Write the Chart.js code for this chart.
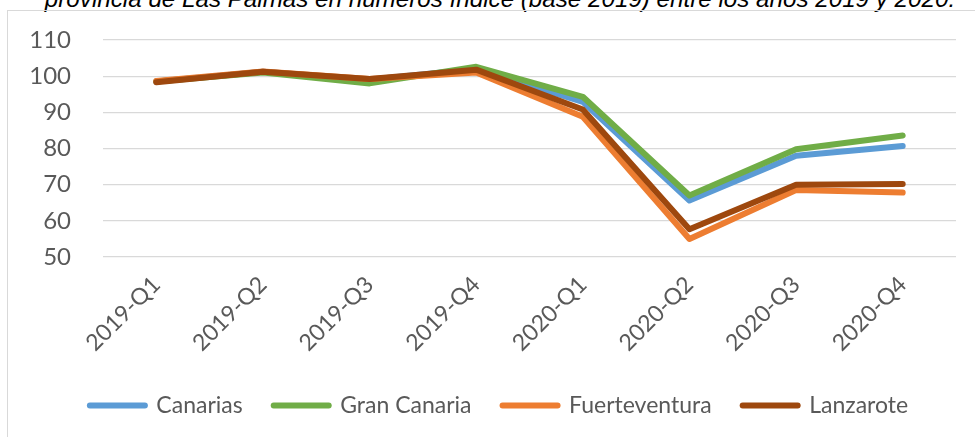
<!DOCTYPE html>
<html>
<head>
<meta charset="utf-8">
<script src="https://cdn.jsdelivr.net/npm/chart.js@4/dist/chart.umd.min.js"></script>
<style>
  html, body { margin: 0; padding: 0; background: #fff; overflow: hidden; }
  body { width: 975px; height: 437px; position: relative; }
  #titre {
    position: absolute; left: 0; width: 1000px; top: -13px;
    text-align: center; white-space: nowrap;
    font: italic 24.2px "Liberation Sans", Arial, sans-serif; line-height: 24px; color: #000;
  }
  #cadre {
    position: absolute; left: 7px; top: 10px; width: 1000px; height: 440px;
    border: 1px solid #d9d9d9; box-sizing: border-box;
  }
  #graf { position: absolute; left: 0; top: 0; }
</style>
</head>
<body>
<div id="titre">provincia de Las Palmas en números índice (base 2019) entre los años 2019 y 2020.</div>
<div id="cadre"></div>
<canvas id="graf" width="975" height="437"></canvas>
<script>
const trimestres = ['2019-Q1', '2019-Q2', '2019-Q3', '2019-Q4', '2020-Q1', '2020-Q2', '2020-Q3', '2020-Q4'];

// valeurs (indice base 2019)
const canarias      = [98.5, 101.2, 99.0, 102.0, 92.9, 65.6, 78.0, 80.7];
const granCanaria   = [98.5, 101.0, 98.0, 102.6, 94.3, 67.0, 79.8, 83.6];
const fuerteventura = [98.7, 101.3, 99.2, 101.0, 88.8, 55.0, 68.5, 67.8];
const lanzarote     = [98.3, 101.2, 99.2, 101.8, 90.8, 57.7, 70.0, 70.2];

const ticksY = [50, 60, 70, 80, 90, 100, 110];

const gris = '#595959';
const police = 'Lato, "Open Sans", sans-serif';

function serie(label, data, color, order) {
  return {
    label: label,
    data: data,
    borderColor: color,
    backgroundColor: color,
    borderWidth: 6,
    borderCapStyle: 'round',
    borderJoinStyle: 'round',
    pointRadius: 0,
    tension: 0,
    order: order // la dernière série est dessinée par dessus
  };
}

// décale un peu la légende vers la droite, comme dans l'original
const decaleLegende = {
  id: 'decaleLegende',
  afterLayout(chart) {
    chart.legend.left += 17;
    chart.legend.right += 17;
  }
};

new Chart(document.getElementById('graf'), {
  type: 'line',
  data: {
    labels: trimestres,
    datasets: [
      serie('Canarias', canarias, '#5b9bd5', 3),
      serie('Gran Canaria', granCanaria, '#70ad47', 2),
      serie('Fuerteventura', fuerteventura, '#ed7d31', 1),
      serie('Lanzarote', lanzarote, '#9e480e', 0)
    ]
  },
  plugins: [decaleLegende],
  options: {
    responsive: false,
    animation: false,
    layout: { padding: { left: 8, right: 19, top: 40, bottom: 10 } },
    plugins: {
      tooltip: { enabled: false },
      legend: {
        position: 'bottom',
        labels: {
          color: gris,
          font: { family: police, size: 23 },
          usePointStyle: true,
          pointStyleWidth: 55,
          padding: 31,
          sort: (a, b) => a.datasetIndex - b.datasetIndex,
          generateLabels: (chart) => {
            const items = Chart.defaults.plugins.legend.labels.generateLabels(chart);
            return items.map(it => Object.assign(it, {
              pointStyle: 'line',
              lineWidth: 6,
              lineCap: 'round',
              strokeStyle: chart.data.datasets[it.datasetIndex].borderColor
            }));
          }
        }
      }
    },
    scales: {
      x: {
        offset: true,
        grid: { display: false },
        border: { display: false },
        ticks: {
          color: gris,
          font: { family: police, size: 23 },
          minRotation: 45,
          maxRotation: 45,
          padding: 6
        },
        afterFit: (scale) => { scale.height = 106; }
      },
      y: {
        min: 50,
        max: 110,
        afterBuildTicks: (scale) => { scale.ticks = ticksY.map(v => ({ value: v })); },
        grid: { color: '#d9d9d9', lineWidth: 1.3, drawTicks: false },
        border: { display: false },
        ticks: {
          color: gris,
          font: { family: police, size: 24 },
          padding: 32
        },
        afterFit: (scale) => {
          scale.width = 95;
          scale.paddingTop = 0; // sinon le haut de la zone descend
          scale.paddingBottom = 0;
        }
      }
    }
  }
});
</script>
</body>
</html>
